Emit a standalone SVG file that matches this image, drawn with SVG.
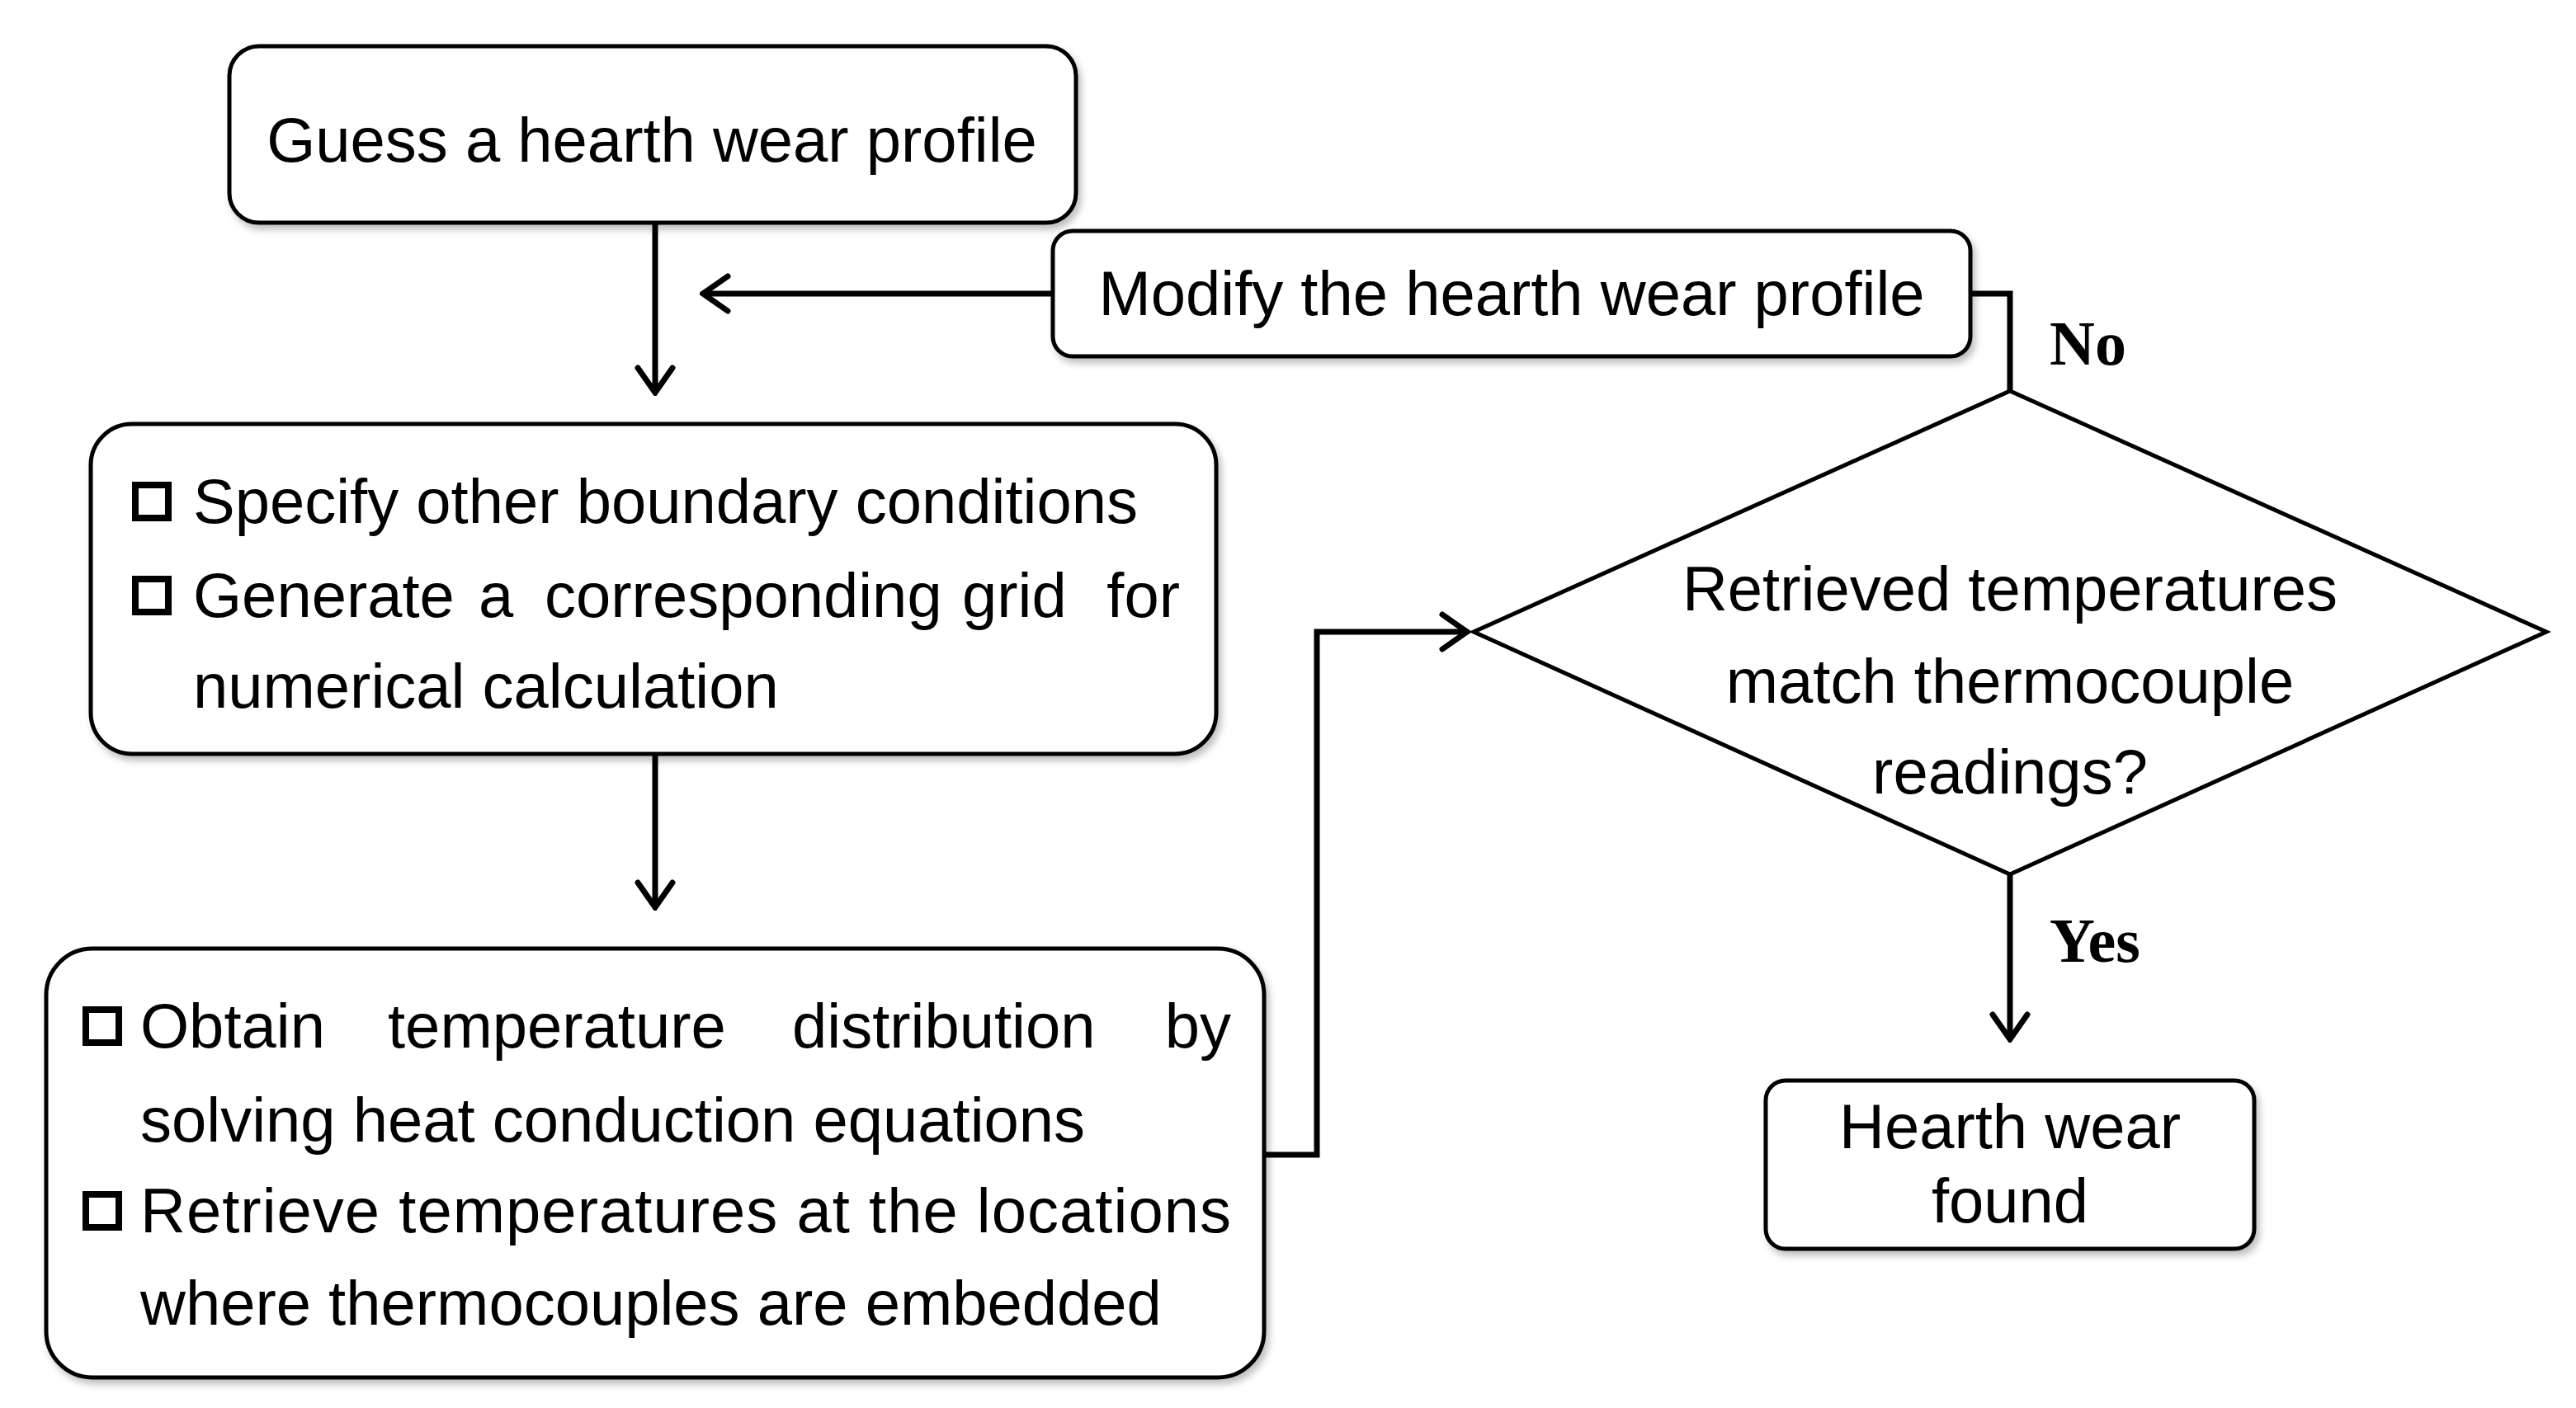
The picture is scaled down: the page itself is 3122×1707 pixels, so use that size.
<svg xmlns="http://www.w3.org/2000/svg" width="3122" height="1707" viewBox="0 0 3122 1707">
<style>
.box{fill:#fff;stroke:#000;stroke-width:5}
.t{font-family:"Liberation Sans",Arial,sans-serif;font-size:76px;fill:#000}
.lbl{font-family:"Liberation Serif","Times New Roman",serif;font-size:76px;font-weight:bold;fill:#000}
.cb{fill:none;stroke:#000;stroke-width:8}
.ln{fill:none;stroke:#000;stroke-width:7}
</style>
<defs>
<marker id="ah" markerUnits="userSpaceOnUse" markerWidth="60" markerHeight="60" viewBox="0 0 60 60" refX="56" refY="30" orient="auto">
<path d="M26,9 L56,30 L26,51" fill="none" stroke="#000" stroke-width="7" stroke-linecap="round"/>
</marker>
<filter id="sh" x="-5%" y="-5%" width="110%" height="115%"><feDropShadow dx="4" dy="6" stdDeviation="4" flood-opacity="0.25"/></filter>
</defs>
<g id="guess"><rect class="box" filter="url(#sh)" x="278" y="56" width="1026" height="214" rx="36"/>
<text class="t" x="790" y="196" text-anchor="middle">Guess a hearth wear profile</text></g>
<g id="modify"><rect class="box" filter="url(#sh)" x="1276" y="280" width="1112" height="152" rx="24"/>
<text class="t" x="1832" y="382" text-anchor="middle">Modify the hearth wear profile</text></g>
<g id="specify"><rect class="box" filter="url(#sh)" x="110" y="514" width="1364" height="400" rx="50"/>
<rect class="cb" x="164" y="588" width="40" height="40"/>
<text class="t" x="234" y="634">Specify other boundary conditions</text>
<rect class="cb" x="164" y="702" width="40" height="40"/>
<text class="t" y="748"><tspan x="234">Generate</tspan><tspan x="580">a</tspan><tspan x="660">corresponding</tspan><tspan x="1166">grid</tspan></text>
<text class="t" x="1430" y="748" text-anchor="end">for</text>
<text class="t" x="234" y="858">numerical calculation</text></g>
<g id="obtain"><rect class="box" filter="url(#sh)" x="56" y="1150" width="1476" height="520" rx="56"/>
<rect class="cb" x="104" y="1224" width="40" height="40"/>
<text class="t" y="1270"><tspan x="170">Obtain</tspan><tspan x="470">temperature</tspan><tspan x="960">distribution</tspan></text>
<text class="t" x="1492" y="1270" text-anchor="end">by</text>
<text class="t" x="170" y="1384">solving heat conduction equations</text>
<rect class="cb" x="104" y="1448" width="40" height="40"/>
<text class="t" x="170" y="1494" textLength="1322" lengthAdjust="spacing">Retrieve temperatures at the locations</text>
<text class="t" x="170" y="1606">where thermocouples are embedded</text></g>
<g id="decision"><polygon class="box" points="1786,766 2436,474 3086,766 2436,1060"/>
<text class="t" x="2436" y="740" text-anchor="middle">Retrieved temperatures</text>
<text class="t" x="2436" y="852" text-anchor="middle">match thermocouple</text>
<text class="t" x="2436" y="962" text-anchor="middle">readings?</text></g>
<g id="found"><rect class="box" filter="url(#sh)" x="2140" y="1310" width="592" height="204" rx="24"/>
<text class="t" x="2436" y="1392" text-anchor="middle">Hearth wear</text>
<text class="t" x="2436" y="1482" text-anchor="middle">found</text></g>
<g id="connectors">
<line class="ln" x1="794" y1="270" x2="794" y2="476" marker-end="url(#ah)"/>
<line class="ln" x1="1276" y1="356" x2="852" y2="356" marker-end="url(#ah)"/>
<polyline class="ln" points="2388,356 2436,356 2436,474"/>
<line class="ln" x1="794" y1="914" x2="794" y2="1100" marker-end="url(#ah)"/>
<polyline class="ln" points="1532,1400 1596,1400 1596,766 1778,766" marker-end="url(#ah)"/>
<line class="ln" x1="2436" y1="1060" x2="2436" y2="1260" marker-end="url(#ah)"/>
<text class="lbl" x="2484" y="442">No</text>
<text class="lbl" x="2484" y="1166">Yes</text>
</g>
</svg>
